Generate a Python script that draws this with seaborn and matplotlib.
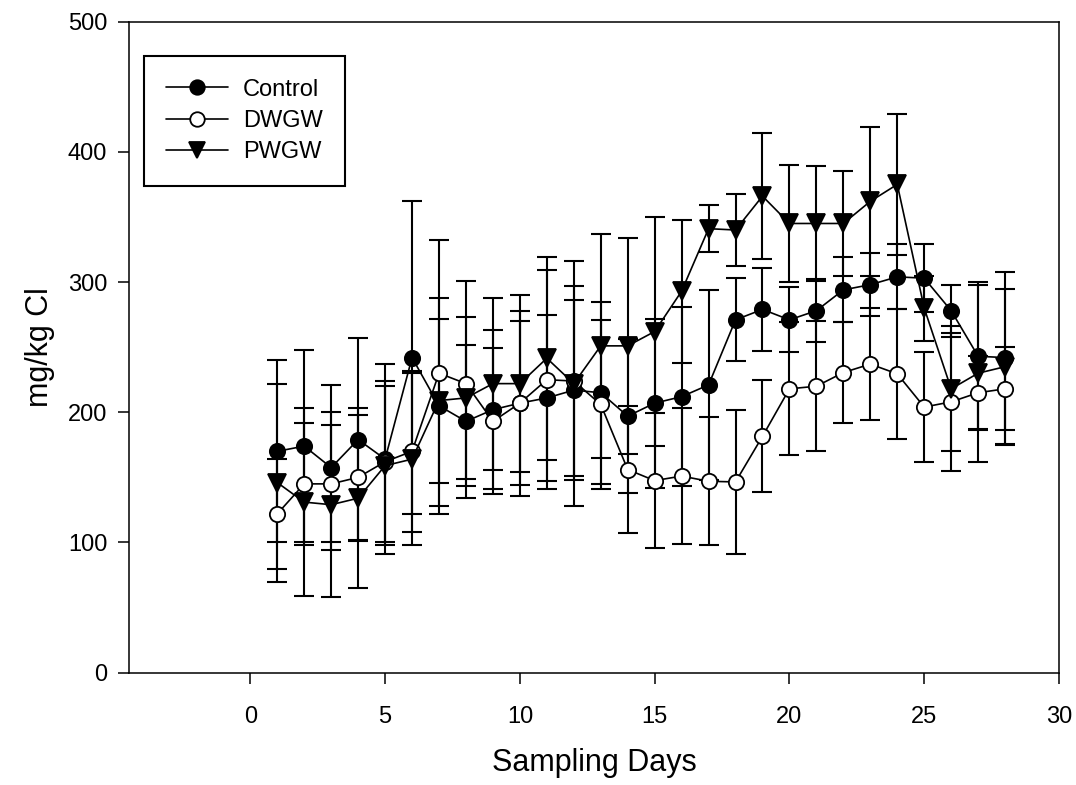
import matplotlib
matplotlib.use("Agg")
import matplotlib.pyplot as plt
import numpy as np
import pandas as pd
import seaborn as sns

# ---- data ----
days = list(range(1, 29))
control = [170, 174, 157.5, 179, 164, 242, 205, 193, 202, 207, 211, 217, 215, 197,
           207, 212, 221, 271, 279, 271, 278, 294, 298, 304, 303, 278, 243, 242]
control_sd = [70, 74, 63.5, 78, 73, 120, 83, 59, 61, 63, 64, 69, 70, 59,
              65, 69, 73, 32, 32, 25, 24, 25, 24, 25, 26, 20, 57, 66]
dwgw = [122, 145, 145, 150, 162, 170, 230, 222, 193, 207, 225, 224, 206, 156,
        147.5, 151, 147, 146.5, 181.5, 218, 220, 230.5, 237, 229.5, 204, 208, 215, 218]
dwgw_sd = [42, 47, 45, 48, 62, 62, 102, 79, 56, 71, 84, 73, 65, 49,
           52, 52, 49, 55.5, 43, 51, 50, 38.5, 43, 50, 42, 53, 28, 32]
pwgw = [146, 131, 129, 134, 159, 164, 209, 211, 222, 222, 241.5, 222, 251, 251,
        262, 293, 341, 340, 366, 345, 345, 345, 362, 375, 280, 218, 230, 235]
pwgw_sd = [76, 72, 71, 69, 61, 66, 63, 62, 66, 68, 78, 94, 86, 83,
           88, 55, 18, 28, 48.5, 45, 44, 40, 57, 54, 25, 48, 68, 60]
series_names = ["Control", "DWGW", "PWGW"]
x_ticks = [0, 5, 10, 15, 20, 25, 30]
y_ticks = [0, 100, 200, 300, 400, 500]

sns.set_theme(style="ticks")
plt.rcParams["font.family"] = ["Liberation Sans", "DejaVu Sans"]
plt.rcParams["text.color"] = "black"
plt.rcParams["axes.labelcolor"] = "black"

fig = plt.figure(figsize=(10.76, 7.85), dpi=100)
ax = fig.add_axes([0.1199, 0.1431, 0.8643, 0.8293])

series = [
    (series_names[0], control, control_sd, "o", "black", 11),
    (series_names[1], dwgw, dwgw_sd, "o", "white", 11),
    (series_names[2], pwgw, pwgw_sd, "v", "black", 12.5),
]

for name, vals, sd, mk, fc, ms in series:
    ax.errorbar(days, vals, yerr=sd, fmt="none", ecolor="black",
                elinewidth=1.5, capsize=7.5, capthick=1.5, zorder=1)

for z, (name, vals, sd, mk, fc, ms) in enumerate(series):
    df = pd.DataFrame({"day": days, "value": vals})
    sns.lineplot(data=df, x="day", y="value", ax=ax, color="black",
                 linewidth=1.2, marker=mk, markersize=ms,
                 markerfacecolor=fc, markeredgecolor="black",
                 markeredgewidth=1.3, label=name, zorder=3 + z)

ax.set_xlim(-4.5, 30)
ax.set_ylim(0, 500)
ax.set_xticks(x_ticks)
ax.set_yticks(y_ticks)
ax.set_xlabel("Sampling Days", fontsize=22, color="black")
ax.set_ylabel("mg/kg Cl", fontsize=22, color="black")
ax.xaxis.label.set_va("center")
ax.yaxis.label.set_va("center")
ax.xaxis.set_label_coords(0.5, -0.138)
ax.yaxis.set_label_coords(-0.096, 0.5)
ax.tick_params(axis="both", direction="out", length=7.7, width=1.1,
               color="black", labelsize=17, labelcolor="black")
ax.tick_params(axis="x", pad=16)
ax.tick_params(axis="y", pad=8)
for sp in ax.spines.values():
    sp.set_visible(True)
    sp.set_color("black")
    sp.set_linewidth(1.1)

leg = ax.legend(loc="upper left", bbox_to_anchor=(0.016, 0.947),
                borderaxespad=0, fontsize=17, frameon=True, fancybox=False,
                handlelength=2.6, handletextpad=0.65, borderpad=0.95,
                labelspacing=0.4, markerscale=0.95)
leg.get_frame().set_edgecolor("black")
leg.get_frame().set_linewidth(1.5)
leg.get_frame().set_alpha(1)

fig.savefig("out.png", dpi=100)
